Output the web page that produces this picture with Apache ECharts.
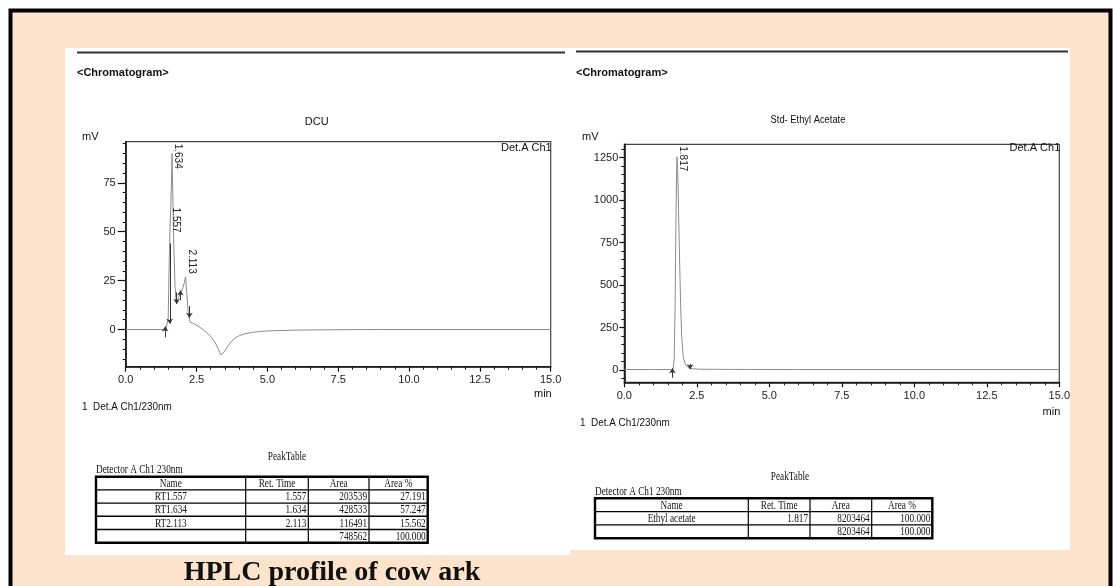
<!DOCTYPE html>
<html><head><meta charset="utf-8">
<script src="https://cdn.jsdelivr.net/npm/echarts@6/dist/echarts.min.js"></script>
<style>html,body{margin:0;padding:0;background:#fff}#c{width:1113px;height:586px}</style>
</head><body><div id="c"></div>
<script>
// ---------- DATA ----------
const dcuTime   = [0, 1.30, 1.36, 1.42, 1.47, 1.50, 1.53, 1.557, 1.59, 1.615, 1.634, 1.66, 1.70, 1.74, 1.78, 1.84, 1.93, 2.01, 2.07, 2.113, 2.16, 2.21, 2.26, 2.40, 2.55, 2.70, 2.85, 3.00, 3.15, 3.27, 3.36, 3.42, 3.50, 3.60, 3.72, 3.85, 4.00, 4.20, 4.50, 4.90, 5.40, 6.20, 7.50, 9.0, 15.0];
const dcuSignal = [0, 0, 0, 0, 0.5, 6, 30, 48, 62, 76, 90, 70, 42, 22, 14, 15.5, 18.4, 21, 24, 27, 18, 8, 4, 3, 1.8, 0.3, -1.5, -3.5, -6.5, -10, -13, -12.8, -11, -8.5, -6.3, -4.5, -3.2, -2.2, -1.4, -0.8, -0.5, -0.25, -0.1, 0, 0];
const dcuPeakTime   = [1.557, 1.634, 2.113];
const dcuPeakHeight = [48, 90, 27];
const dcuMarkTime = [1.39, 1.557, 1.80, 1.93, 2.25];
const dcuMarkFrom = [-4, 44, 19, 15, 12];
const dcuMarkTo   = [1.5, 3, 13, 20, 6];
const dcuYTicks = [0, 25, 50, 75];

const eaTime   = [0, 1.00, 1.60, 1.68, 1.72, 1.75, 1.78, 1.80, 1.817, 1.84, 1.87, 1.90, 1.94, 1.98, 2.03, 2.10, 2.20, 2.35, 2.60, 3.50, 6.0, 15.0];
const eaSignal = [3, 3, 3, 5, 60, 350, 850, 1150, 1255, 1180, 950, 700, 400, 190, 80, 35, 15, 8, 5, 4, 3, 3];
const eaPeakTime   = [1.817];
const eaPeakHeight = [1255];
const eaMarkTime = [1.66, 2.27];
const eaMarkFrom = [-45, 35];
const eaMarkTo   = [10, 5];
const eaYTicks = [0, 250, 500, 750, 1000, 1250];

const xTickLabels = ['0.0', '2.5', '5.0', '7.5', '10.0', '12.5', '15.0'];

const tableHeader = ['Name', 'Ret. Time', 'Area', 'Area %'];
const dcuTableRows = [
  ['RT1.557', '1.557', '203539', '27.191'],
  ['RT1.634', '1.634', '428533', '57.247'],
  ['RT2.113', '2.113', '116491', '15.562'],
  ['', '', '748562', '100.000']
];
const eaTableRows = [
  ['Ethyl acetate', '1.817', '8203464', '100.000'],
  ['', '', '8203464', '100.000']
];

// ---------- LAYOUT ----------
const SANS = "'Liberation Sans Narrow','Liberation Sans',Arial,sans-serif";
const SERIF = "'Liberation Serif','Times New Roman',serif";
const G1 = {left: 125.7, top: 141.7, width: 425, height: 225};
const G2 = {left: 624.3, top: 144.3, width: 435, height: 238};

const chart = echarts.init(document.getElementById('c'), null, {renderer: 'canvas'});

function zip(a, b) { return a.map((v, i) => [v, b[i]]); }
function marks(t, f, to) {
  return t.map((v, i) => [{coord: [v, f[i]]}, {coord: [v, to[i]]}]);
}
function range(a, b, s) { const r = []; for (let v = a; v <= b + 1e-9; v += s) r.push(+v.toFixed(6)); return r; }

function xAxis(gi) {
  return {
    type: 'value', gridIndex: gi, min: 0, max: 15, interval: 2.5,
    axisLine: {onZero: false, lineStyle: {color: '#111', width: 1.6}},
    axisTick: {length: 5, lineStyle: {color: '#111', width: 1.2}},
    minorTick: {show: true, splitNumber: 5, length: 3, lineStyle: {color: '#111', width: 1}},
    splitLine: {show: false},
    axisLabel: {margin: 8, color: '#222', fontFamily: SANS, fontSize: 11,
      formatter: v => xTickLabels[Math.round(v / 2.5)]}
  };
}
function yMain(gi, min, max, ticks, len, margin) {
  return {
    type: 'value', gridIndex: gi, min, max, position: 'left',
    axisLine: {onZero: false, lineStyle: {color: '#111', width: 1.6}},
    axisTick: {length: len, customValues: ticks, lineStyle: {color: '#111', width: 1.2}},
    splitLine: {show: false},
    axisLabel: {margin, customValues: ticks, color: '#222', fontFamily: SANS, fontSize: 11,
      formatter: v => String(v)}
  };
}
function yMinor(gi, min, max, vals) {
  return {
    type: 'value', gridIndex: gi, min, max, position: 'left',
    axisLine: {show: false, onZero: false},
    axisTick: {length: 3, customValues: vals, lineStyle: {color: '#111', width: 1}},
    splitLine: {show: false},
    axisLabel: {show: false}
  };
}
function curve(xi, yi, data, mk) {
  return {
    type: 'line', xAxisIndex: xi, yAxisIndex: yi, data, symbol: 'none', showSymbol: false,
    lineStyle: {color: '#8c8c8c', width: 1}, animation: false, silent: true,
    markLine: {silent: true, symbol: ['none', 'arrow'], symbolSize: 5, animation: false,
      lineStyle: {color: '#333', width: 1, type: 'solid'}, label: {show: false}, data: mk}
  };
}

const option = {
  animation: false,
  grid: [
    Object.assign({show: true, borderColor: '#444', borderWidth: 1.2, backgroundColor: 'transparent'}, G1),
    Object.assign({show: true, borderColor: '#444', borderWidth: 1.2, backgroundColor: 'transparent'}, G2)
  ],
  xAxis: [xAxis(0), xAxis(1)],
  yAxis: [
    yMain(0, -19, 96, dcuYTicks, 8, 10),
    yMinor(0, -19, 96, range(-15, 95, 5)),
    yMain(1, -72, 1328, eaYTicks, 5, 6),
    yMinor(1, -72, 1328, range(-50, 1300, 50))
  ],
  series: [
    curve(0, 0, zip(dcuTime, dcuSignal), marks(dcuMarkTime, dcuMarkFrom, dcuMarkTo)),
    curve(1, 2, zip(eaTime, eaSignal), marks(eaMarkTime, eaMarkFrom, eaMarkTo))
  ]
};
chart.setOption(option);

// ---------- GRAPHICS ----------
function txt(x, y, text, o) {
  o = o || {};
  return {type: 'text', x, y, z: 20, scaleX: o.sx || 1, rotation: o.rot || 0, silent: true,
    style: {text, fill: o.fill || '#111', font: o.font || ('11px ' + SANS),
      textAlign: o.align || 'left', align: o.align || 'left',
      textVerticalAlign: o.va || 'middle', verticalAlign: o.va || 'middle'}};
}
function line(x1, y1, x2, y2, w, c) {
  return {type: 'line', z: 20, silent: true, shape: {x1, y1, x2, y2}, style: {stroke: c || '#000', lineWidth: w}};
}
function rect(x, y, w, h, fill, stroke, lw, z) {
  return {type: 'rect', z: z, silent: true, shape: {x, y, width: w, height: h},
    style: {fill: fill, stroke: stroke || null, lineWidth: lw || 0}};
}
const TF = '12.5px ' + SERIF;
const TSX = 0.74;
function table(x, y, widths, rowH, header, rows) {
  const els = [];
  const total = widths.reduce((a, b) => a + b, 0);
  const nRows = rows.length + 1;
  const H = rowH * nRows;
  for (let r = 1; r < nRows; r++) els.push(line(x, y + r * rowH, x + total, y + r * rowH, 1.4));
  let cx = x;
  for (let c = 0; c < widths.length - 1; c++) { cx += widths[c]; els.push(line(cx, y, cx, y + H, 1.2)); }
  els.push({type: 'rect', z: 21, silent: true, shape: {x, y, width: total, height: H}, style: {fill: null, stroke: '#000', lineWidth: 2.4}});
  const all = [header].concat(rows);
  all.forEach((row, r) => {
    let left = x;
    row.forEach((cell, c) => {
      const w = widths[c];
      const cy = y + r * rowH + rowH / 2 + 0.5;
      if (cell !== '') {
        if (r === 0 || c === 0) els.push(txt(left + w / 2, cy, cell, {font: TF, align: 'center', sx: TSX}));
        else els.push(txt(left + w - 2, cy, cell, {font: TF, align: 'right', sx: TSX}));
      }
      left += w;
    });
  });
  return els;
}
function peakLabels(xi, yi, times, heights, top) {
  return times.map((t, i) => {
    const p = chart.convertToPixel({xAxisIndex: xi, yAxisIndex: yi}, [t, heights[i]]);
    const endY = Math.max(p[1] - 3, top + 27);
    return txt(p[0] + 6, endY, t.toFixed(3), {rot: -Math.PI / 2, align: 'right', font: '10px ' + SANS, fill: '#222'});
  });
}

const PEACH = '#fce4cc';
let g = [
  rect(10.5, 10.5, 1100, 620, PEACH, '#000', 4, -10),
  rect(65, 48, 505, 507, '#fff', null, 0, -9),
  rect(570, 48, 500, 502, '#fff', null, 0, -9),
  line(77, 52.5, 565, 52.5, 2, '#333'),
  line(576, 51.5, 1068, 51.5, 2, '#333'),
  txt(77, 73, '<Chromatogram>', {font: 'bold 11px ' + SANS}),
  txt(576, 73, '<Chromatogram>', {font: 'bold 11px ' + SANS}),
  txt(G1.left + 191, 121.5, 'DCU', {font: '11px ' + SANS, align: 'center'}),
  txt(808, 120, 'Std- Ethyl Acetate', {font: '11px ' + SANS, align: 'center', sx: 0.85}),
  txt(82, 137, 'mV', {font: '11px ' + SANS}),
  txt(582, 137, 'mV', {font: '11px ' + SANS}),
  txt(G1.left + G1.width + 1, 148, 'Det.A Ch1', {font: '11px ' + SANS, align: 'right'}),
  txt(G2.left + G2.width + 1, 148, 'Det.A Ch1', {font: '11px ' + SANS, align: 'right'}),
  txt(G1.left + G1.width + 1, 393.5, 'min', {font: '11px ' + SANS, align: 'right'}),
  txt(G2.left + G2.width + 1, 411.5, 'min', {font: '11px ' + SANS, align: 'right'}),
  txt(82, 407, '1  Det.A Ch1/230nm', {font: '11px ' + SANS, sx: 0.9}),
  txt(580, 423, '1  Det.A Ch1/230nm', {font: '11px ' + SANS, sx: 0.9}),
  txt(287, 457, 'PeakTable', {font: TF, align: 'center', sx: TSX}),
  txt(96, 470, 'Detector A Ch1 230nm', {font: TF, sx: TSX}),
  txt(790, 477, 'PeakTable', {font: TF, align: 'center', sx: TSX}),
  txt(595, 491.5, 'Detector A Ch1 230nm', {font: TF, sx: TSX}),
  txt(332, 573, 'HPLC profile of cow ark', {font: 'bold 28px ' + SERIF, align: 'center'})
];
g = g.concat(table(96, 476.7, [149.7, 62.6, 60.7, 58.7], 13.2, tableHeader, dcuTableRows));
g = g.concat(table(595, 498.3, [153.3, 61.7, 61.7, 60.6], 13.3, tableHeader, eaTableRows));
g = g.concat(peakLabels(0, 0, dcuPeakTime, dcuPeakHeight, G1.top));
g = g.concat(peakLabels(1, 2, eaPeakTime, eaPeakHeight, G2.top));

chart.setOption({graphic: {elements: g}});
</script>
</body></html>
